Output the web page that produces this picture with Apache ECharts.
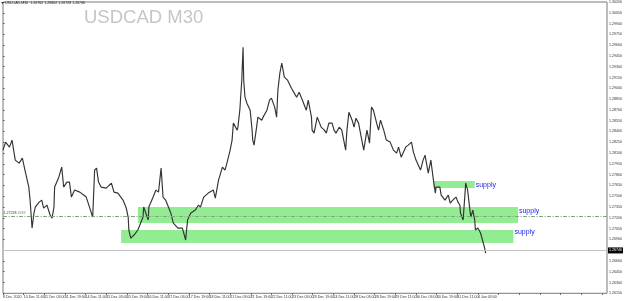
<!DOCTYPE html>
<html><head><meta charset="utf-8">
<script src="https://cdn.jsdelivr.net/npm/echarts@6/dist/echarts.min.js"></script>
<style>html,body{margin:0;padding:0;background:#fff}#c{width:625px;height:301px}</style>
</head><body><div id="c"></div>
<script>
// ---- data ----
const xLabels = ["8 Dec 2020","10 Dec 11:00","11 Dec 03:00","11 Dec 19:00","14 Dec 11:00","15 Dec 03:00","15 Dec 19:00","16 Dec 11:00","17 Dec 03:00","17 Dec 19:00","18 Dec 11:00","21 Dec 03:00","21 Dec 19:00","22 Dec 11:00","23 Dec 03:00","23 Dec 19:00","24 Dec 11:00","28 Dec 03:00","28 Dec 19:00","29 Dec 11:00","30 Dec 03:00","30 Dec 19:00","31 Dec 11:00","4 Jan 03:00"];
const barsPerLabel = 32;
// bar index (M30 bars from first label)
const bars = [0,4,10,14,19,25,30,34,40,42,45,48,50,56,60,63,68,73,76,79,80,86,91,94,99,103,106,111,119,125,129,134,139,142,145,148,152,160,168,172,178,186,191,194,195,198,203,209,211,217,218,225,226,232,237,241,245,248,252,260,264,271,278,283,286,291,298,303,306,311,318,326,329,334,340,344,347,352,355,357,363,364,367,370,372,373,375,378,383,386,387,389,393,395,401,403,409,413,416,421,424,426,429,432,436,441,447,455,459,464,470,473,478,479,482,487,493,498,501,505,510,513,516,521,525,528,531,533,536,541,544,547,551,556,559,564,568,571,574,579,582,585,590,594,600,605,610,613,617,624,628,633,636,640,647,651,654,659,663,667,670,671,677,679,685,690,693,697,702,705,708,709,713,716,717,720,723,725,728,731,732,736,739,740,743,746,748];
const prices = [1.28141,1.28252,1.28182,1.28280,1.28002,1.27960,1.28030,1.27863,1.27627,1.27446,1.27057,1.27266,1.27349,1.27418,1.27446,1.27335,1.27377,1.27238,1.27196,1.27349,1.27627,1.27752,1.27905,1.27627,1.27696,1.27696,1.27488,1.27585,1.27557,1.27516,1.27488,1.27349,1.27210,1.27863,1.27891,1.27696,1.27627,1.27613,1.27682,1.27557,1.27543,1.27446,1.27335,1.27210,1.27030,1.26918,1.26960,1.27030,1.27057,1.27210,1.27349,1.27168,1.27349,1.27474,1.27585,1.27557,1.27891,1.27488,1.27446,1.27266,1.27127,1.27057,1.27057,1.26891,1.27168,1.27266,1.27307,1.27377,1.27349,1.27488,1.27543,1.27585,1.27474,1.27724,1.27905,1.27863,1.27960,1.28141,1.28280,1.28516,1.28418,1.28460,1.28696,1.29113,1.29571,1.29113,1.28877,1.28793,1.28696,1.28418,1.28280,1.28210,1.28460,1.28599,1.28557,1.28599,1.28696,1.28835,1.28863,1.28738,1.28599,1.28974,1.29210,1.29349,1.29155,1.29113,1.29002,1.28877,1.28946,1.28835,1.28696,1.28835,1.28599,1.28418,1.28377,1.28599,1.28460,1.28418,1.28377,1.28516,1.28516,1.28418,1.28377,1.28460,1.28418,1.28280,1.28141,1.28418,1.28668,1.28557,1.28460,1.28585,1.28516,1.28280,1.28141,1.28418,1.28238,1.28738,1.28696,1.28516,1.28418,1.28557,1.28418,1.28280,1.28252,1.28141,1.28099,1.28182,1.28043,1.28182,1.28210,1.28252,1.28113,1.28002,1.27863,1.28002,1.28071,1.27821,1.28002,1.27724,1.27543,1.27627,1.27627,1.27516,1.27446,1.27516,1.27405,1.27446,1.27488,1.27418,1.27377,1.27266,1.27168,1.27543,1.27682,1.27585,1.27349,1.27210,1.27307,1.27168,1.27030,1.27057,1.27071,1.26988,1.26891,1.26793,1.26710];
// supply zones: start bar, end bar, top price, bottom price
const zoneStart = [667, 209, 183];
const zoneEnd   = [731, 798, 791];
const zoneTop   = [1.27710, 1.27349, 1.27030];
const zoneBottom= [1.27613, 1.27127, 1.26849];
const zoneText  = ["supply","supply","supply"];
const bidPrice = 1.26746;
const hLinePrice = 1.27228;
const headerText = "USDCAD,M30  1.26762 1.26802 1.26728 1.26746";
const titleText = "USDCAD M30";
const yMin = 1.2615, yMax = 1.3020, yStep = 0.0015;
const xMin = 0, xMax = 936;

// ---- chart ----
const chart = echarts.init(document.getElementById('c'), null, {renderer:'canvas'});
const series = bars.map((b,i)=>[b, prices[i]]);
const zoneOffsets = [[0,0],[0,-4],[0,-4]];
const areaData = zoneStart.map((s,i)=>[
  {xAxis:s, yAxis:zoneTop[i], name:zoneText[i],
   label:{show:true, position:'right', distance:1, offset:zoneOffsets[i], formatter:zoneText[i], color:'#2222ee', fontSize:7, fontFamily:'Liberation Sans'}},
  {xAxis:zoneEnd[i], yAxis:zoneBottom[i]}
]);
function hLineSeries(price, lineStyle, label){
  return {type:'line', data:[], silent:true, z:4,
    markLine:{silent:true, symbol:'none', animation:false, lineStyle:lineStyle, label:label,
      data:[[{coord:[xMin, price]},{coord:[xMax, price]}]]}};
}
chart.setOption({
  animation:false,
  backgroundColor:'#fff',
  title:{text:titleText, left:79, top:3, textStyle:{fontSize:18.5, fontWeight:'normal', color:'#c6c6c6', fontFamily:'Liberation Sans'}},
  graphic:[
    {type:'polygon', shape:{points:[[1,2],[4,2],[2.5,4]]}, style:{fill:'#333'}},
    {type:'text', left:5, top:1.2, style:{text:headerText, fontSize:3.6, fill:'#222', fontFamily:'Liberation Sans'}}
  ],
  grid:{left:0.7, right:14, top:1.7, bottom:7.7, show:true, borderColor:'#7a7a7a', borderWidth:1, backgroundColor:'transparent'},
  xAxis:{type:'value', min:xMin, max:xMax, interval:barsPerLabel,
    axisLine:{show:false}, splitLine:{show:false},
    axisTick:{show:true, length:1.5, lineStyle:{color:'#555'}},
    axisLabel:{fontSize:3.6, color:'#333', margin:1.5, align:'left', hideOverlap:false, showMaxLabel:false, fontFamily:'Liberation Sans',
      formatter:v=>{const k=Math.round(v/barsPerLabel); return xLabels[k]||'';}}
  },
  yAxis:{type:'value', position:'right', min:yMin, max:yMax, interval:yStep,
    axisLine:{show:false}, splitLine:{show:false},
    axisTick:{show:true, length:1.5, lineStyle:{color:'#555'}},
    axisLabel:{fontSize:3.6, color:'#333', margin:2, fontFamily:'Liberation Sans', formatter:v=>v.toFixed(5)}
  },
  series:[
    {
    type:'line', data:series, symbol:'none', smooth:false, z:3,
    lineStyle:{color:'#333333', width:1.15},
    markArea:{silent:true, z:1, itemStyle:{color:'#92ec92', opacity:1}, data:areaData}
    },
    hLineSeries(bidPrice, {color:'#c4c4c4', type:'solid', width:1},
      {show:true, position:'end', distance:1, formatter:bidPrice.toFixed(5), backgroundColor:'#000', color:'#fff', fontSize:3.6, padding:[1,1]}),
    hLineSeries(hLinePrice, {color:'#7fa57f', type:[4,1.5,1,1.5], width:1},
      {show:true, position:'insideStartTop', distance:0.5, formatter:hLinePrice.toFixed(5)+' ####', color:'#333', fontSize:3.6})
  ]
});
</script></body></html>
